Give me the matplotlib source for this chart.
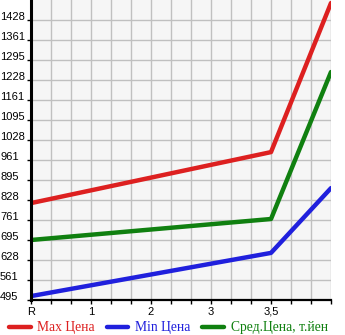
import matplotlib
matplotlib.use("Agg")
import matplotlib.pyplot as plt

# category positions on the x axis (ticks every step), labels at some of them
x_ticks = list(range(16))
x_labels = {0: "R", 3: "1", 6: "2", 9: "3", 12: "3,5"}

# points: R, 3.5, end
x_pts = [0, 12, 15]
max_price = [818, 988, 1485]
min_price = [508, 652, 868]
avg_price = [695, 765, 1255]

y_min = 495
y_step = 200 / 3
y_ticks = [y_min + y_step * k for k in range(15)]
y_labels = [str(int(v + 1e-6)) for v in y_ticks]

fig = plt.figure(figsize=(3.45, 3.35), dpi=100)
ax = fig.add_axes([31 / 345, 35 / 335, 300 / 345, 300 / 335])
ax.set_facecolor("#f6f6f6")

ax.plot(x_pts, max_price, color="#dd2020", linewidth=3.2, solid_capstyle="round", label="Max Цена")
ax.plot(x_pts, min_price, color="#2020dd", linewidth=3.2, solid_capstyle="round", label="Min Цена")
ax.plot(x_pts, avg_price, color="#108010", linewidth=3.2, solid_capstyle="round", label="Сред.Цена, т.йен")

ax.set_xlim(0, 15)
ax.set_ylim(y_min, y_min + y_step * 15)
ax.set_xticks(x_ticks)
ax.set_xticklabels([x_labels.get(t, "") for t in x_ticks], fontsize=8, family="Liberation Sans")
ax.set_yticks(y_ticks)
ax.set_yticklabels(y_labels, fontsize=8, family="Liberation Sans")
for lab in ax.get_yticklabels():
    lab.set_horizontalalignment("left")
    lab.set_verticalalignment("baseline")

ax.grid(True, color="#c0c0c0", linewidth=1.0)
ax.set_axisbelow(True)
ax.tick_params(axis="y", length=3, width=1, pad=19.3, colors="black")
ax.tick_params(axis="x", length=3, width=1, pad=2)

for s in ["top", "right"]:
    ax.spines[s].set_visible(False)
ax.spines["left"].set_linewidth(2.2)
ax.spines["bottom"].set_linewidth(1.6)

leg = fig.legend(loc="lower left", bbox_to_anchor=(-0.01, -0.035), ncol=3, frameon=False,
                 handlelength=1.6, handletextpad=0.5, columnspacing=0.85,
                 prop={"family": "Liberation Serif", "size": 9.8}, labelcolor="linecolor")

fig.savefig("out.png", dpi=100)
